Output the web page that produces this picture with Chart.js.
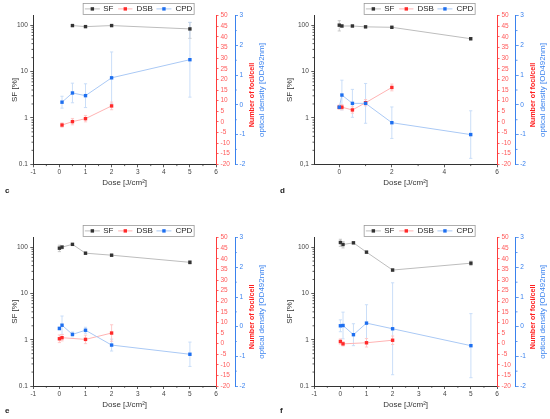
<!DOCTYPE html>
<html><head><meta charset="utf-8">
<script src="https://cdn.jsdelivr.net/npm/chart.js@4.4.0/dist/chart.umd.min.js"></script>
<style>
html,body{margin:0;padding:0;background:#fff;}
#wrap{position:relative;width:550px;height:419px;overflow:hidden;background:#fff;}
canvas{position:absolute;}
</style></head><body>
<div id="wrap">
<canvas id="pc" width="275" height="210" style="left:0;top:0;width:275px;height:210px"></canvas>
<canvas id="pd" width="275" height="210" style="left:275px;top:0;width:275px;height:210px"></canvas>
<canvas id="pe" width="275" height="209" style="left:0;top:210px;width:275px;height:209px"></canvas>
<canvas id="pf" width="275" height="209" style="left:275px;top:210px;width:275px;height:209px"></canvas>
</div>
<script>
// ---- data ----
const seriesNames = ['SF', 'DSB', 'CPD'];
const xTicksFull = [-1, 0, 1, 2, 3, 4, 5, 6];
const xTicksEven = [0, 2, 4, 6];
const logTicks = [0.1, 1, 10, 100];
const redTicks = [-20, -15, -10, -5, 0, 5, 10, 15, 20, 25, 30, 35, 40, 45, 50];
const blueTicks = [-2, -1, 0, 1, 2, 3];

// panel c
const cSF_x = [0.5, 1, 2, 5];
const cSF = [98, 93, 98, 83];
const cSF_err = [4, 4, 4, 31];
const cDSB_x = [0.1, 0.5, 1, 2];
const cDSB = [-1.5, 0.1, 1.5, 7.5];
const cDSB_err = [1, 1.5, 1.5, 1.8];
const cCPD_x = [0.1, 0.5, 1, 2, 5];
const cCPD = [0.09, 0.40, 0.31, 0.91, 1.52];
const cCPD_err = [0.2, 0.33, 0.4, 0.87, 1.26];

// panel d
const dSF_x = [0, 0.1, 0.5, 1, 2, 5];
const dSF = [100, 96, 96, 92, 90, 51];
const dSF_err = [25, 5, 4, 4, 4, 3];
const dDSB_x = [0, 0.1, 0.5, 1, 2];
const dDSB = [6.9, 6.9, 5.6, 9, 16.2];
const dDSB_err = [1, 1.2, 1.5, 1.5, 1.6];
const dCPD_x = [0, 0.1, 0.5, 1, 2, 5];
const dCPD = [-0.08, 0.33, 0.05, 0.05, -0.6, -1.0];
const dCPD_err = [0.05, 0.5, 0.47, 0.67, 0.53, 0.8];

// panel e
const eSF_x = [0, 0.1, 0.5, 1, 2, 5];
const eSF = [95, 100, 115, 74, 67, 47];
const eSF_err = [15, 8, 5, 4, 3, 4];
const eDSB_x = [0, 0.1, 1, 2];
const eDSB = [2.3, 2.8, 2.0, 5.0];
const eDSB_err = [1.8, 1.5, 2, 3.9];
const eCPD_x = [0, 0.1, 0.5, 1, 2, 5];
const eCPD = [-0.06, 0.05, -0.26, -0.12, -0.62, -0.93];
const eCPD_err = [0.05, 0.31, 0.08, 0.1, 0.2, 0.41];

// panel f
const fSF_x = [0, 0.1, 0.5, 1, 2, 5];
const fSF = [126, 114, 124, 78, 32, 45];
const fSF_err = [22, 18, 6, 4, 2, 5];
const fDSB_x = [0, 0.1, 1, 2];
const fDSB = [1.0, -0.1, 0.4, 1.6];
const fDSB_err = [1.2, 1, 2, 2];
const fCPD_x = [0, 0.1, 0.5, 1, 2, 5];
const fCPD = [0.03, 0.04, -0.27, 0.12, -0.07, -0.64];
const fCPD_err = [0.2, 0.45, 0.37, 0.62, 1.55, 1.08];

// ---- styling ----
const FONT = "'Liberation Sans', Arial, sans-serif";
const COL = {
  SF:  {mark:'#333333', line:'#bdbdbd', err:'#c4c4c4'},
  DSB: {mark:'#ff2a2a', line:'#ffb3b3', err:'#ffc4c4'},
  CPD: {mark:'#1e6ff0', line:'#aac9f5', err:'#c4daf7'}
};
const AX = '#333333', RED = '#ff3b3b', BLUE = '#3a82ee';

function pts(xs, ys){ return xs.map((x,i)=>({x:x, y:ys[i]})); }

const overlay = {
  id:'overlay',
  beforeDatasetsDraw(chart, args, o){
    const ctx = chart.ctx;
    ctx.save();
    chart.data.datasets.forEach((ds, i)=>{
      const meta = chart.getDatasetMeta(i);
      const ys = chart.scales[ds.yAxisID];
      ctx.strokeStyle = ds.errColor; ctx.lineWidth = 0.9;
      ds.data.forEach((p, j)=>{
        const e = ds.errors[j]; if(!e) return;
        const x = meta.data[j].x;
        let lo = p.y - e; if(ys.type==='logarithmic' && lo <= ys.min) lo = ys.min;
        const y1 = ys.getPixelForValue(p.y + e), y2 = ys.getPixelForValue(lo);
        ctx.beginPath();
        ctx.moveTo(x, y1); ctx.lineTo(x, y2);
        ctx.moveTo(x-1.6, y1); ctx.lineTo(x+1.6, y1);
        ctx.moveTo(x-1.6, y2); ctx.lineTo(x+1.6, y2);
        ctx.stroke();
      });
    });
    ctx.restore();
  },
  afterDraw(chart, args, o){
    const ctx = chart.ctx, ca = chart.chartArea;
    const sx = chart.scales.x, sy = chart.scales.y, sb = chart.scales.yB;
    ctx.save();
    // minor ticks
    ctx.lineWidth = 0.8;
    ctx.strokeStyle = AX;
    ctx.beginPath();
    o.xMinor.forEach(v=>{ const x = sx.getPixelForValue(v); ctx.moveTo(x, ca.bottom); ctx.lineTo(x, ca.bottom+1.8); });
    [-1,0,1,2].forEach(n=>{ for(let k=2;k<=9;k++){ const v=k*Math.pow(10,n); if(v>sy.max) continue; const y=sy.getPixelForValue(v); ctx.moveTo(ca.left,y); ctx.lineTo(ca.left-1.8,y);} });
    ctx.stroke();
    ctx.strokeStyle = BLUE;
    ctx.beginPath();
    [-1.5,-0.5,0.5,1.5,2.5].forEach(v=>{ const y=sb.getPixelForValue(v); ctx.moveTo(sb.left,y); ctx.lineTo(sb.left+1.8,y); });
    ctx.stroke();

    const cy = (ca.top+ca.bottom)/2, cx = (ca.left+ca.right)/2;
    // left title
    ctx.fillStyle = AX; ctx.textAlign='center'; ctx.textBaseline='middle';
    ctx.save(); ctx.translate(15, cy); ctx.rotate(-Math.PI/2);
    ctx.font = '8px '+FONT; ctx.fillText('SF [%]', 0, 0); ctx.restore();
    // x title
    ctx.font = '8px '+FONT; ctx.fillText('Dose [J/cm²]', cx, ca.bottom+18.5);
    // red title
    ctx.save(); ctx.translate(sb.left+17.5, cy+5); ctx.rotate(-Math.PI/2);
    ctx.fillStyle = '#ff1f1f'; ctx.font = 'bold 7.2px '+FONT; ctx.fillText('Number of foci/cell', 0, 0); ctx.restore();
    // blue title
    ctx.save(); ctx.translate(sb.left+27, cy); ctx.rotate(-Math.PI/2);
    ctx.fillStyle = BLUE; ctx.font = '8px '+FONT; ctx.fillText('optical density [OD492nm]', 0, 0); ctx.restore();
    // panel letter
    ctx.fillStyle = '#222'; ctx.textAlign='left'; ctx.font='bold 8px '+FONT;
    ctx.fillText(o.letter, 5, o.letterY);
    // legend
    const L = cx + 14 - 55.5, T = ca.top - 12.3, W = 111, H = 11;
    ctx.fillStyle='#fff'; ctx.fillRect(L,T,W,H);
    ctx.strokeStyle='#9a9a9a'; ctx.lineWidth=0.8; ctx.strokeRect(L,T,W,H);
    const items = [[1.7,16.7,20],[35,49.3,53.3],[73.3,88.3,92.3]];
    seriesNames.forEach((nm,i)=>{
      const it = items[i], ym = T+H/2;
      ctx.strokeStyle = COL[nm].line; ctx.lineWidth=1;
      ctx.beginPath(); ctx.moveTo(L+it[0], ym); ctx.lineTo(L+it[1], ym); ctx.stroke();
      const c = L+(it[0]+it[1])/2;
      ctx.fillStyle = COL[nm].mark; ctx.fillRect(c-1.7, ym-1.7, 3.4, 3.4);
      ctx.fillStyle = '#222'; ctx.font = '8px '+FONT; ctx.textBaseline='middle';
      ctx.fillText(nm, L+it[2], ym+0.3);
    });
    ctx.restore();
  }
};

function ds(name, xs, ys, errs, axis, order){
  return {
    label:name, data:pts(xs, ys), errors:errs, errColor:COL[name].err,
    yAxisID:axis, order:order,
    borderColor:COL[name].line, borderWidth:1, backgroundColor:COL[name].mark,
    pointStyle:'rect', pointRadius:2.4, pointBorderWidth:0,
    pointBackgroundColor:COL[name].mark, tension:0, showLine:true, clip:false
  };
}

function makePanel(id, g, sf, dsb, cpd){
  const tickFont = {family:FONT, size:6.5};
  const fixTicks = arr => (s => { s.ticks = arr.map(v=>({value:v})); });
  new Chart(document.getElementById(id), {
    type:'scatter',
    data:{ datasets:[
      ds('SF', sf[0], sf[1], sf[2], 'y', 0),
      ds('CPD', cpd[0], cpd[1], cpd[2], 'yB', 1),
      ds('DSB', dsb[0], dsb[1], dsb[2], 'yR', 2)
    ]},
    options:{
      responsive:false, animation:false, devicePixelRatio:1,
      layout:{padding:{top:g.caTop, left:0, right:0, bottom:0}},
      plugins:{legend:{display:false}, tooltip:{enabled:false},
        overlay:{letter:g.letter, letterY:g.letterY, xMinor:g.xMinor}},
      scales:{
        x:{type:'linear', position:'bottom', min:g.xmin, max:6,
          afterBuildTicks:fixTicks(g.xTicks),
          afterFit:s=>{ s.height = g.h - g.caBottom; },
          ticks:{font:tickFont, color:'#444', padding:1, maxRotation:0, autoSkip:false},
          grid:{drawOnChartArea:false, drawTicks:true, tickLength:3, tickColor:AX, tickWidth:0.8},
          border:{display:true, color:AX, width:1}},
        y:{type:'logarithmic', position:'left', min:0.1, max:160,
          afterBuildTicks:fixTicks(logTicks),
          afterFit:s=>{ s.width = g.yW; },
          ticks:{font:tickFont, color:'#444', padding:2.5, autoSkip:false,
            callback:v=> v===0.1 ? g.lab01 : String(v)},
          grid:{drawOnChartArea:false, drawTicks:true, tickLength:3, tickColor:AX, tickWidth:0.8},
          border:{display:true, color:AX, width:1}},
        yR:{type:'linear', position:'right', min:-20, max:50, weight:0,
          afterBuildTicks:fixTicks(redTicks),
          afterFit:s=>{ s.width = g.redW; },
          ticks:{font:tickFont, color:'#ff5a5a', padding:2, autoSkip:false},
          grid:{drawOnChartArea:false, drawTicks:true, tickLength:2.5, tickColor:RED, tickWidth:0.8},
          border:{display:true, color:RED, width:1}},
        yB:{type:'linear', position:'right', min:-2, max:3, weight:1,
          afterBuildTicks:fixTicks(blueTicks),
          afterFit:s=>{ s.width = g.blueW; },
          ticks:{font:tickFont, color:BLUE, padding:1.5, autoSkip:false},
          grid:{drawOnChartArea:false, drawTicks:true, tickLength:3, tickColor:BLUE, tickWidth:0.8},
          border:{display:true, color:BLUE, width:1}}
      }
    },
    plugins:[overlay]
  });
}

const halfMinor = [-0.5,0.5,1.5,2.5,3.5,4.5,5.5];
makePanel('pc', {h:210, caTop:15.7, caBottom:164.3, yW:33.3, redW:19, blueW:40, xmin:-1, xTicks:xTicksFull, xMinor:halfMinor, lab01:'0.1', letter:'c', letterY:191},
  [cSF_x,cSF,cSF_err], [cDSB_x,cDSB,cDSB_err], [cCPD_x,cCPD,cCPD_err]);
makePanel('pd', {h:210, caTop:15.7, caBottom:164.3, yW:39.3, redW:18.7, blueW:34.3, xmin:-0.95, xTicks:xTicksEven, xMinor:[1,3,5], lab01:'0,1', letter:'d', letterY:191},
  [dSF_x,dSF,dSF_err], [dDSB_x,dDSB,dDSB_err], [dCPD_x,dCPD,dCPD_err]);
makePanel('pe', {h:209, caTop:27.7, caBottom:176, yW:33.3, redW:19, blueW:40, xmin:-1, xTicks:xTicksFull, xMinor:halfMinor, lab01:'0.1', letter:'e', letterY:201},
  [eSF_x,eSF,eSF_err], [eDSB_x,eDSB,eDSB_err], [eCPD_x,eCPD,eCPD_err]);
makePanel('pf', {h:209, caTop:27.7, caBottom:176, yW:39.3, redW:18.7, blueW:34.3, xmin:-1, xTicks:xTicksFull, xMinor:halfMinor, lab01:'0.1', letter:'f', letterY:201},
  [fSF_x,fSF,fSF_err], [fDSB_x,fDSB,fDSB_err], [fCPD_x,fCPD,fCPD_err]);
</script>
</body></html>
